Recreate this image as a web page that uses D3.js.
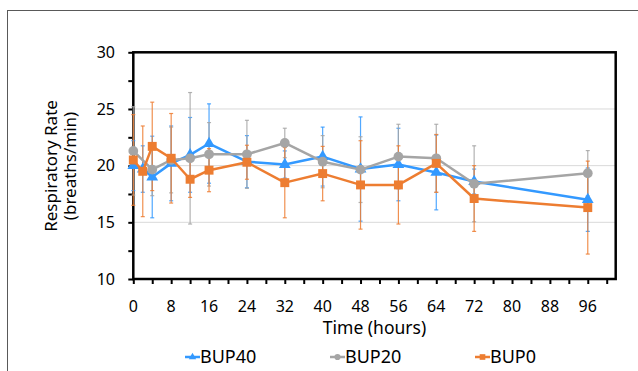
<!DOCTYPE html>
<html>
<head>
<meta charset="utf-8">
<script src="https://cdn.jsdelivr.net/npm/d3@7"></script>
<style>
  body { margin: 0; background: #fff; }
  svg { display: block; font-family: "Noto Sans", sans-serif; }
</style>
</head>
<body>
<div id="chart"></div>
<script>
// hours and mean respiratory rate (breaths/min) with error (+/-)
const hours40 = [0, 2, 4, 8, 12, 16, 24, 32, 40, 48, 56, 64, 72, 96];
const bup40 = [20.0, 19.7, 19.0, 20.2, 20.95, 21.95, 20.35, 20.1, 20.8, 19.7, 20.1, 19.4, 18.6, 17.0];
const bup40Err = [2.2, 2.05, 3.6, 3.3, 3.3, 3.5, 2.3, 1.2, 2.6, 4.6, 3.2, 3.3, 1.1, 2.8];

const hours20 = [0, 4, 8, 12, 16, 24, 32, 40, 48, 56, 64, 72, 96];
const bup20 = [21.3, 19.65, 20.5, 20.65, 21.0, 21.0, 22.0, 20.35, 19.65, 20.8, 20.65, 18.4, 19.33];
const bup20Err = [3.9, 2.3, 2.9, 5.8, 2.8, 3.0, 1.3, 2.3, 2.9, 2.85, 3.0, 3.35, 2.0];

const hours0 = [0, 2, 4, 8, 12, 16, 24, 32, 40, 48, 56, 64, 72, 96];
const bup0 = [20.5, 19.5, 21.7, 20.65, 18.8, 19.6, 20.3, 18.5, 19.3, 18.3, 18.3, 20.2, 17.1, 16.3];
const bup0Err = [4.0, 4.0, 3.9, 3.95, 1.6, 1.9, 1.5, 3.1, 2.4, 3.9, 3.45, 2.55, 2.9, 4.1];

const xTicks = [0, 8, 16, 24, 32, 40, 48, 56, 64, 72, 80, 88, 96];
const yTicks = [10, 15, 20, 25, 30];

const series = [
  { name: "BUP40", t: hours40, v: bup40, e: bup40Err, color: "#3399ff", symbol: d3.symbolTriangle, size: 60 },
  { name: "BUP20", t: hours20, v: bup20, e: bup20Err, color: "#a5a5a5", symbol: d3.symbolCircle, size: 75 },
  { name: "BUP0", t: hours0, v: bup0, e: bup0Err, color: "#ed7d31", symbol: d3.symbolSquare, size: 80 }
];

const width = 638, height = 371;
const svg = d3.select("#chart").append("svg")
  .attr("width", width)
  .attr("height", height);

// outer chart frame (cropped at right/bottom)
svg.append("rect")
  .attr("x", 7.5).attr("y", 10.5)
  .attr("width", 700).attr("height", 500)
  .attr("fill", "none")
  .attr("stroke", "#595959")
  .attr("stroke-width", 1);

const x = d3.scaleLinear().domain([0, 101.9]).range([133.3, 615.7]);
const y = d3.scaleLinear().domain([10, 30]).range([279, 52.3]);

// gridlines
svg.append("g")
  .selectAll("line")
  .data([15, 20, 25])
  .join("line")
  .attr("x1", x(0)).attr("x2", x(101.9))
  .attr("y1", d => y(d)).attr("y2", d => y(d))
  .attr("stroke", "#d9d9d9")
  .attr("stroke-width", 1);

// axes
const xAxis = svg.append("g")
  .attr("transform", `translate(0,${y(10)})`)
  .call(d3.axisBottom(x).tickValues(d3.range(0, 101, 4)).tickSize(5).tickFormat(""));
xAxis.select(".domain").remove();
xAxis.selectAll(".tick line").attr("stroke", "#000").attr("stroke-width", 2);

svg.append("g")
  .selectAll("text")
  .data(xTicks)
  .join("text")
  .attr("x", d => x(d))
  .attr("y", 312)
  .attr("text-anchor", "middle")
  .attr("font-size", 16)
  .attr("fill", "#000")
  .text(d => d);

const yAxis = svg.append("g")
  .attr("transform", `translate(${x(0)},0)`)
  .call(d3.axisLeft(y).tickValues(d3.range(10, 30.1, 2.5)).tickSize(5).tickFormat(""));
yAxis.select(".domain").remove();
yAxis.selectAll(".tick line").attr("stroke", "#000").attr("stroke-width", 2);

svg.append("g")
  .selectAll("text")
  .data(yTicks)
  .join("text")
  .attr("x", 115)
  .attr("y", d => y(d))
  .attr("dy", "0.35em")
  .attr("text-anchor", "end")
  .attr("font-size", 16)
  .attr("fill", "#000")
  .text(d => d);

// plot box
svg.append("rect")
  .attr("x", x(0)).attr("y", y(30))
  .attr("width", x(101.9) - x(0))
  .attr("height", y(10) - y(30))
  .attr("fill", "none")
  .attr("stroke", "#000")
  .attr("stroke-width", 2.5);

// error bars
series.forEach(s => {
  const g = svg.append("g")
    .attr("stroke", s.color)
    .attr("stroke-opacity", 0.85)
    .attr("stroke-width", 1.2);
  const idx = d3.range(s.t.length);
  g.selectAll("line.bar").data(idx).join("line")
    .attr("class", "bar")
    .attr("x1", i => x(s.t[i])).attr("x2", i => x(s.t[i]))
    .attr("y1", i => y(s.v[i] + s.e[i])).attr("y2", i => y(s.v[i] - s.e[i]));
  [1, -1].forEach(sign => {
    g.selectAll(`line.cap${sign}`).data(idx).join("line")
      .attr("class", `cap${sign}`)
      .attr("x1", i => x(s.t[i]) - 2).attr("x2", i => x(s.t[i]) + 2)
      .attr("y1", i => y(s.v[i] + sign * s.e[i]))
      .attr("y2", i => y(s.v[i] + sign * s.e[i]));
  });
});

// lines and markers
const line = d3.line().x(d => x(d[0])).y(d => y(d[1]));
series.forEach(s => {
  const pts = s.t.map((t, i) => [t, s.v[i]]);
  svg.append("path")
    .datum(pts)
    .attr("fill", "none")
    .attr("stroke", s.color)
    .attr("stroke-width", 2.5)
    .attr("stroke-linejoin", "round")
    .attr("d", line);
  svg.append("g")
    .selectAll("path")
    .data(pts)
    .join("path")
    .attr("transform", d => `translate(${x(d[0])},${y(d[1])})`)
    .attr("d", d3.symbol(s.symbol, s.size))
    .attr("fill", s.color);
});

// axis titles
svg.append("text")
  .attr("x", (x(0) + x(101.9)) / 2)
  .attr("y", 334)
  .attr("text-anchor", "middle")
  .attr("font-size", 17.5)
  .attr("fill", "#000")
  .text("Time (hours)");

const yTitle = svg.append("text")
  .attr("transform", "translate(57,166) rotate(-90)")
  .attr("text-anchor", "middle")
  .attr("font-size", 17)
  .attr("fill", "#000");
yTitle.append("tspan").attr("x", 0).attr("y", 0).text("Respiratory Rate");
yTitle.append("tspan").attr("x", 0).attr("y", 19).text("(breaths/min)");

// legend
const legendX = [185, 330, 475];
const legend = svg.append("g")
  .selectAll("g")
  .data(series)
  .join("g")
  .attr("transform", (d, i) => `translate(${legendX[i]},357)`);
legend.append("line")
  .attr("x1", 0).attr("x2", 15)
  .attr("stroke", d => d.color)
  .attr("stroke-width", 2.5);
legend.append("path")
  .attr("transform", "translate(7.5,0)")
  .attr("d", d => d3.symbol(d.symbol, d.size * 0.4)())
  .attr("fill", d => d.color);
legend.append("text")
  .attr("x", 15)
  .attr("y", 0)
  .attr("dy", "0.36em")
  .attr("font-size", 18)
  .attr("fill", "#000")
  .text(d => d.name);
</script>
</body>
</html>
